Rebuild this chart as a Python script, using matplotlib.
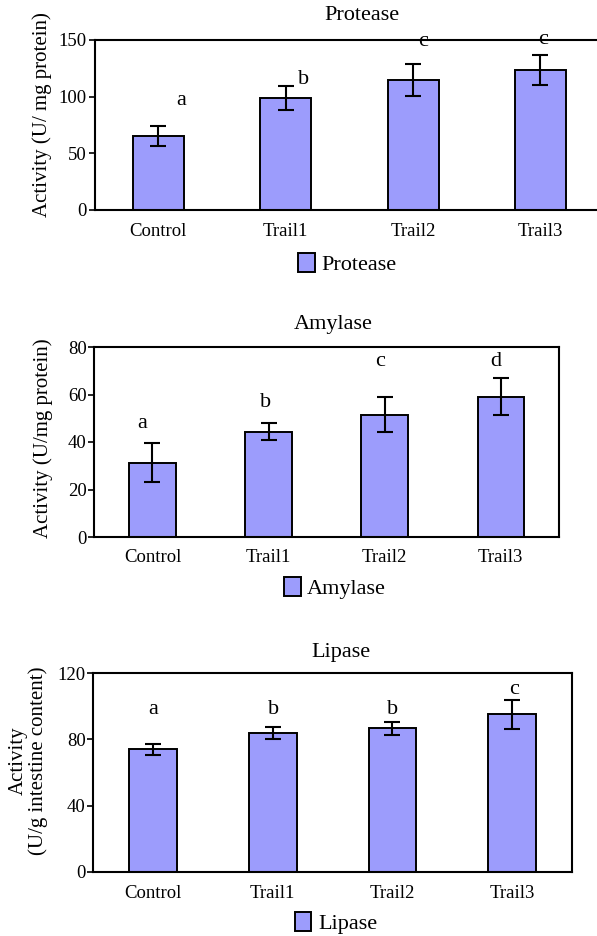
import matplotlib
matplotlib.use("Agg")
import matplotlib.pyplot as plt
import numpy as np

plt.rcParams['font.family'] = ['Liberation Serif', 'DejaVu Serif']

categories = ["Control", "Trail1", "Trail2", "Trail3"]

protease_vals = [65.3, 98.8, 114.7, 123.5]
protease_err = [8.8, 10.3, 14.1, 13.5]
protease_letters = ["a", "b", "c", "c"]

amylase_vals = [31.2, 44.3, 51.5, 59.1]
amylase_err = [8.2, 3.6, 7.4, 7.7]
amylase_letters = ["a", "b", "c", "d"]

lipase_vals = [74.0, 83.9, 86.7, 95.0]
lipase_err = [3.2, 3.7, 3.8, 8.8]
lipase_letters = ["a", "b", "b", "c"]

BAR_COLOR = "#9c9cfc"

W, H = 597.0, 936.0
fig = plt.figure(figsize=(W / 100, H / 100), dpi=100)


def rect(l, r, t, b):
    return [l / W, 1 - b / H, (r - l) / W, (b - t) / H]


def panel(box, vals, errs, letters, letter_y, letter_dx, ymax, yticks,
          ylabel, ylabel_xy, title, title_xy, legend_xy):
    ax = fig.add_axes(rect(*box))
    x = np.arange(len(categories))
    bars = ax.bar(x, vals, width=0.4, color=BAR_COLOR, edgecolor="black",
                  linewidth=1.4, label=title, zorder=2)
    ax.errorbar(x, vals, yerr=errs, fmt="none", ecolor="black", elinewidth=1.5,
                capsize=6, capthick=1.5, zorder=3)
    for i, (lt, ly, dx) in enumerate(zip(letters, letter_y, letter_dx)):
        ax.text(i + dx, ly, lt, ha="center", va="center", fontsize=16,
                zorder=1, clip_on=False)
    ax.set_xlim(-0.5, 3.5)
    ax.set_ylim(0, ymax)
    ax.set_yticks(yticks)
    ax.set_yticklabels([str(t) for t in yticks], fontsize=13.5)
    ax.set_xticks(x)
    ax.set_xticklabels(categories, fontsize=13.5)
    ax.tick_params(axis="x", length=0, pad=9)
    ax.tick_params(axis="y", direction="out", length=4.5, width=1.2, pad=1)
    for s in ax.spines.values():
        s.set_linewidth(1.5)
        s.set_zorder(4)
    fig.text(ylabel_xy[0] / W, 1 - ylabel_xy[1] / H, ylabel, rotation=90,
             ha="center", va="center", fontsize=15, linespacing=1.05,
             multialignment="center")
    fig.text(title_xy[0] / W, 1 - title_xy[1] / H, title, ha="center",
             va="center", fontsize=16)
    fig.legend(handles=[bars], labels=[title], loc="center",
               bbox_to_anchor=(legend_xy[0] / W, 1 - legend_xy[1] / H),
               frameon=False, fontsize=16, handlelength=0.75,
               handleheight=0.9, handletextpad=0.3, borderpad=0.1)
    return ax


# Protease (right spine lies beyond the image edge)
panel((94.5, 604.2, 40, 210), protease_vals, protease_err, protease_letters,
      [97, 115, 148.5, 150], [0.18, 0.14, 0.08, 0.02], 150, [0, 50, 100, 150],
      "Activity (U/ mg protein)", (42, 115), "Protease", (361.6, 15),
      (347.7, 264))

# Amylase
panel((94.4, 558.8, 347, 537), amylase_vals, amylase_err, amylase_letters,
      [48, 56.8, 73.8, 73.8], [-0.09, -0.03, -0.04, -0.04], 80,
      [0, 20, 40, 60, 80],
      "Activity (U/mg protein)", (43.5, 438.5), "Amylase", (333, 325),
      (335, 588))

# Lipase
panel((93.3, 572, 673, 872), lipase_vals, lipase_err, lipase_letters,
      [98.2, 98.2, 98.2, 109.9], [0.0, 0.01, 0.0, 0.02], 120,
      [0, 40, 80, 120],
      "Activity\n(U/g intestine content)", (28.5, 761), "Lipase", (340.7, 653),
      (336, 923))

fig.savefig("out.png", dpi=100)
